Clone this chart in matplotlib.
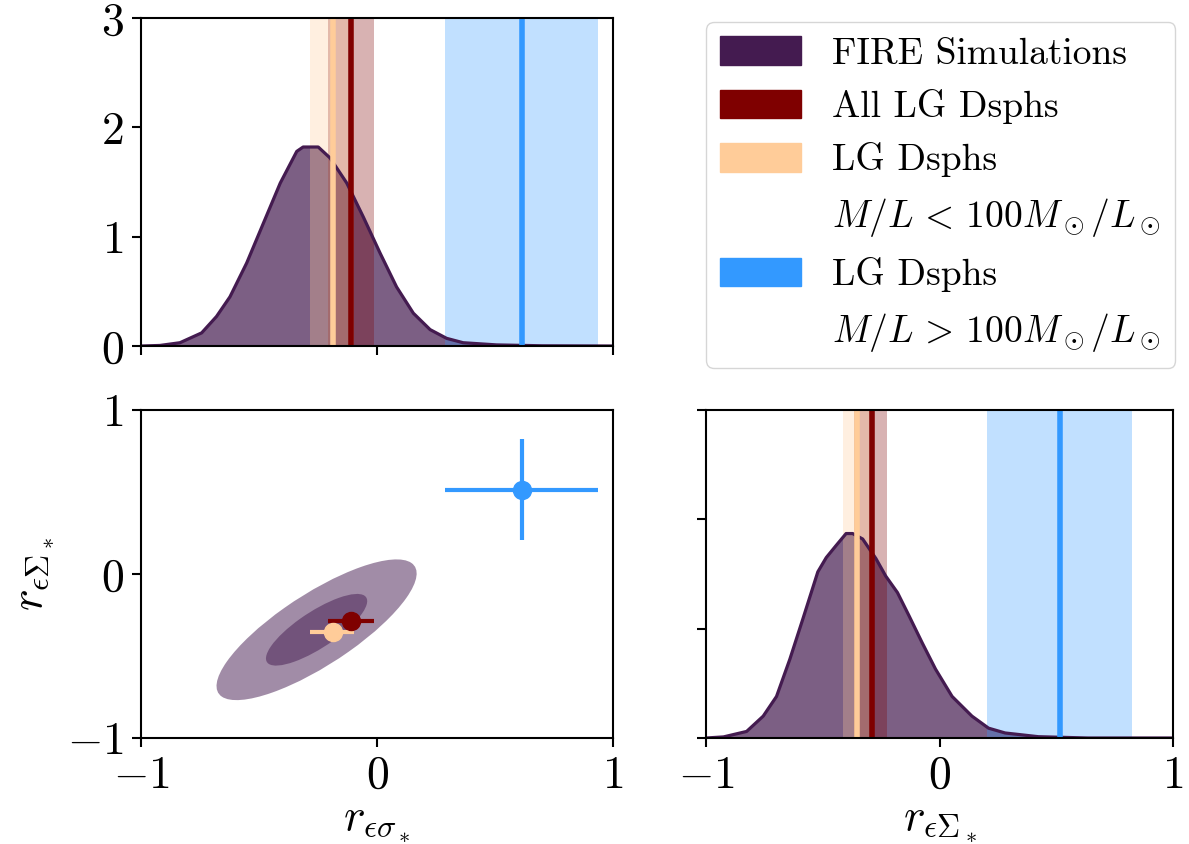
import numpy as np
import matplotlib
matplotlib.use("Agg")
import matplotlib.pyplot as plt
from matplotlib.patches import Ellipse, Patch

plt.rcParams['font.family'] = 'cmr10'
plt.rcParams['mathtext.fontset'] = 'cm'
plt.rcParams['axes.formatter.use_mathtext'] = True
plt.rcParams['axes.linewidth'] = 1.5

# marginal of r_eps_sigma (top left panel)
sig_x = [-1.0, -0.92, -0.835, -0.743, -0.68, -0.623, -0.552, -0.482, -0.41, -0.34,
         -0.313, -0.249, -0.199, -0.128, -0.058, 0.013, 0.083, 0.154, 0.225, 0.295,
         0.365, 0.507, 0.7, 1.0]
sig_y = [0.0, 0.005, 0.03, 0.12, 0.27, 0.45, 0.76, 1.12, 1.49, 1.78,
         1.82, 1.82, 1.72, 1.49, 1.18, 0.85, 0.54, 0.30, 0.15, 0.07,
         0.03, 0.01, 0.002, 0.0]

# marginal of r_eps_Sigma (bottom right panel)
Sig_x = [-1.0, -0.925, -0.826, -0.755, -0.698, -0.641, -0.585, -0.521, -0.485, -0.443,
         -0.40, -0.372, -0.329, -0.272, -0.23, -0.18, -0.131, -0.074, -0.017, 0.054,
         0.139, 0.21, 0.281, 0.423, 0.635, 1.0]
Sig_y = [0.0, 0.01, 0.06, 0.20, 0.38, 0.72, 1.09, 1.52, 1.65, 1.76,
         1.87, 1.87, 1.82, 1.64, 1.48, 1.33, 1.12, 0.87, 0.63, 0.38,
         0.20, 0.09, 0.046, 0.012, 0.0, 0.0]

# 2d contours of the simulations: centre, half extents (1 and 2 sigma), correlation
cont_center = (-0.256, -0.34)
cont_half_x = [0.424, 0.2145]
cont_half_y = [0.429, 0.2185]
cont_rho = 0.80

# observed samples: median and range in each correlation
obs_sig = [-0.110, -0.187, 0.615]
obs_sig_lo = [-0.207, -0.286, 0.287]
obs_sig_hi = [-0.012, -0.098, 0.937]
obs_Sig = [-0.289, -0.355, 0.515]
obs_Sig_lo = [-0.365, -0.414, 0.205]
obs_Sig_hi = [-0.223, -0.290, 0.825]
obs_show_yerr = [False, False, True]

fire_col = '#441b50'
obs_cols = ['#7f0000', '#ffcc99', '#3399ff']

legend_labels = ['FIRE Simulations', 'All LG Dsphs', 'LG Dsphs',
                 r'$M/L\,<\,100M_\odot/L_\odot$', 'LG Dsphs',
                 r'$M/L\,>\,100M_\odot/L_\odot$']

W, H = 1189, 844
fig = plt.figure(figsize=(W / 100, H / 100), dpi=100)

ax_tl = fig.add_axes([141 / W, 1 - 346 / H, 472 / W, 328 / H])
ax_bl = fig.add_axes([141 / W, 1 - 738 / H, 472 / W, 328 / H])
ax_br = fig.add_axes([706 / W, 1 - 738 / H, 467 / W, 328 / H])

tick_fs = 33


def marginal(ax, xs, ys, vals, los, his):
    ax.fill_between(xs, ys, color=fire_col, alpha=0.7, lw=0)
    ax.plot(xs, ys, color=fire_col, lw=2.3)
    for v, lo, hi, c in zip(vals, los, his, obs_cols):
        ax.axvspan(lo, hi, color=c, alpha=0.3, lw=0)
    for v, c in zip(vals, obs_cols):
        ax.axvline(v, color=c, lw=4)
    ax.set_xlim(-1, 1)
    ax.set_ylim(0, 3)
    ax.set_xticks([-1, 0, 1])
    ax.set_yticks([0, 1, 2, 3])


marginal(ax_tl, sig_x, sig_y, obs_sig, obs_sig_lo, obs_sig_hi)
ax_tl.set_xticklabels([])

marginal(ax_br, Sig_x, Sig_y, obs_Sig, obs_Sig_lo, obs_Sig_hi)
ax_br.set_yticklabels([])
ax_br.set_xlabel(r'$r_{\epsilon\Sigma_*}$', fontsize=tick_fs)

# 2d panel
for hx, hy in zip(cont_half_x, cont_half_y):
    cov = np.array([[hx**2, cont_rho * hx * hy], [cont_rho * hx * hy, hy**2]])
    vals, vecs = np.linalg.eigh(cov)
    ang = np.degrees(np.arctan2(vecs[1, 1], vecs[0, 1]))
    ax_bl.add_patch(Ellipse(cont_center, 2 * np.sqrt(vals[1]), 2 * np.sqrt(vals[0]),
                            angle=ang, color=fire_col, alpha=0.5, lw=0))

for i, c in enumerate(obs_cols):
    xerr = [[obs_sig[i] - obs_sig_lo[i]], [obs_sig_hi[i] - obs_sig[i]]]
    yerr = None
    if obs_show_yerr[i]:
        yerr = [[obs_Sig[i] - obs_Sig_lo[i]], [obs_Sig_hi[i] - obs_Sig[i]]]
    ax_bl.errorbar([obs_sig[i]], [obs_Sig[i]], xerr=xerr, yerr=yerr, fmt='o',
                   color=c, ms=13, elinewidth=3, capsize=0)

ax_bl.set_xlim(-1, 1)
ax_bl.set_ylim(-1, 1)
ax_bl.set_xticks([-1, 0, 1])
ax_bl.set_yticks([-1, 0, 1])
ax_bl.set_xlabel(r'$r_{\epsilon\sigma_*}$', fontsize=tick_fs)
ax_bl.set_ylabel(r'$r_{\epsilon\Sigma_*}$', fontsize=tick_fs, labelpad=8)

for ax in [ax_tl, ax_bl, ax_br]:
    ax.tick_params(direction='out', length=6.5, width=1.5, labelsize=tick_fs, pad=6)

handles = [Patch(color=fire_col), Patch(color=obs_cols[0]), Patch(color=obs_cols[1]),
           Patch(alpha=0), Patch(color=obs_cols[2]), Patch(alpha=0)]
fig.legend(handles, legend_labels, loc='upper left',
           bbox_to_anchor=(706 / W, 1 - 22 / H), borderaxespad=0,
           fontsize=27, handlelength=2.16, handleheight=0.8,
           handletextpad=0.83, borderpad=0.38, labelspacing=0.49,
           fancybox=True, edgecolor='#cccccc')

fig.savefig('out.png', dpi=100)
